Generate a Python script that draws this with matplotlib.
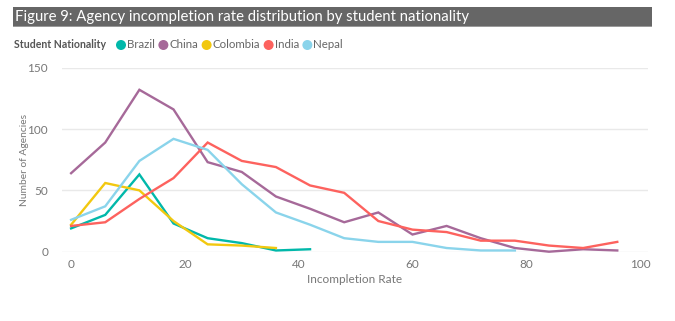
import matplotlib
matplotlib.use("Agg")
import matplotlib.pyplot as plt
from matplotlib.patches import Rectangle, Circle
from matplotlib.transforms import IdentityTransform

plt.rcParams['font.family'] = ['Lato', 'DejaVu Sans']

# Incompletion-rate bins and agency counts per nationality
rate_bins = [0, 6, 12, 18, 24, 30, 36, 42, 48, 54, 60, 66, 72, 78, 84, 90, 96]
brazil = [19, 30, 63, 23, 11, 7, 1, 2]
china = [64, 89, 132, 116, 73, 65, 45, 35, 24, 32, 14, 21, 11, 3, 0, 2, 1]
colombia = [22, 56, 50, 25, 6, 5, 3]
india = [21, 24, 43, 60, 89, 74, 69, 54, 48, 25, 18, 16, 9, 9, 5, 3, 8]
nepal = [26, 37, 74, 92, 83, 55, 32, 22, 11, 8, 8, 3, 1, 1]

series_names = ["Brazil", "China", "Colombia", "India", "Nepal"]
series_values = [brazil, china, colombia, india, nepal]
series_colors = ["#01B8AA", "#A66999", "#F2C80F", "#FD625E", "#8AD4EB"]

x_ticks = [0, 20, 40, 60, 80, 100]
y_ticks = [0, 50, 100, 150]

title = "Figure 9: Agency incompletion rate distribution by student nationality"
legend_title = "Student Nationality"

W, H = 675, 321
fig = plt.figure(figsize=(W / 100, H / 100), dpi=100)
fig.patch.set_facecolor("white")

# Title banner
fig.patches.append(Rectangle((13 / W, 1 - 26 / H), (652 - 13) / W, 19 / H,
                             transform=fig.transFigure, facecolor="#666666",
                             edgecolor="none", zorder=0))
fig.patches.append(Rectangle((13 / W, 1 - 27 / H), (652 - 13) / W, 1.2 / H,
                             transform=fig.transFigure, facecolor="#9a9a9a",
                             edgecolor="none", zorder=0))
fig.text(15 / W, 1 - 16.5 / H, title, color="white", fontsize=10.7,
         va="center", ha="left")

ax_left, ax_w = 62, 648 - 62
ax = fig.add_axes([ax_left / W, 1 - 251.7 / H, ax_w / W, (251.7 - 67.7) / H])
for name, vals, col in zip(series_names, series_values, series_colors):
    ax.plot(rate_bins[:len(vals)], vals, color=col, lw=1.7, clip_on=False,
            solid_joinstyle="miter", zorder=3)

ax.set_xlim(-1.6, 101.4)
ax.set_ylim(0, 150)
ax.set_xticks(x_ticks)
ax.set_yticks(y_ticks)
ax.grid(axis="y", color="#e9e9e9", lw=1)
ax.set_axisbelow(True)
for s in ax.spines.values():
    s.set_visible(False)
ax.tick_params(length=0, labelsize=8.5, colors="#777777")
ax.tick_params(axis="y", pad=10)
ax.tick_params(axis="x", pad=5)
ax.set_xlabel("Incompletion Rate", fontsize=8.5, color="#777777", labelpad=3)
ax.set_ylabel("Number of Agencies", fontsize=7.4, color="#777777",
              va="center", ha="center")
ax.yaxis.set_label_coords((24 - ax_left) / ax_w, 0.5)

# Legend row, laid out left to right from measured text widths
renderer = fig.canvas.get_renderer()
ly = (1 - 45 / H) * H
t = fig.text(14 / W, ly / H, legend_title, fontsize=7.6, fontweight="bold",
             color="#555555", va="center", ha="left")
x = t.get_window_extent(renderer).x1 + 10
r = 5
for name, col in zip(series_names, series_colors):
    fig.patches.append(Circle((x + r, ly), r, transform=IdentityTransform(),
                              facecolor=col, edgecolor="none"))
    lbl = fig.text((x + 2 * r + 1) / W, ly / H, name, fontsize=8.3,
                   color="#666666", va="center", ha="left")
    x = lbl.get_window_extent(renderer).x1 + 3.5

fig.savefig("out.png", dpi=100, facecolor="white")
